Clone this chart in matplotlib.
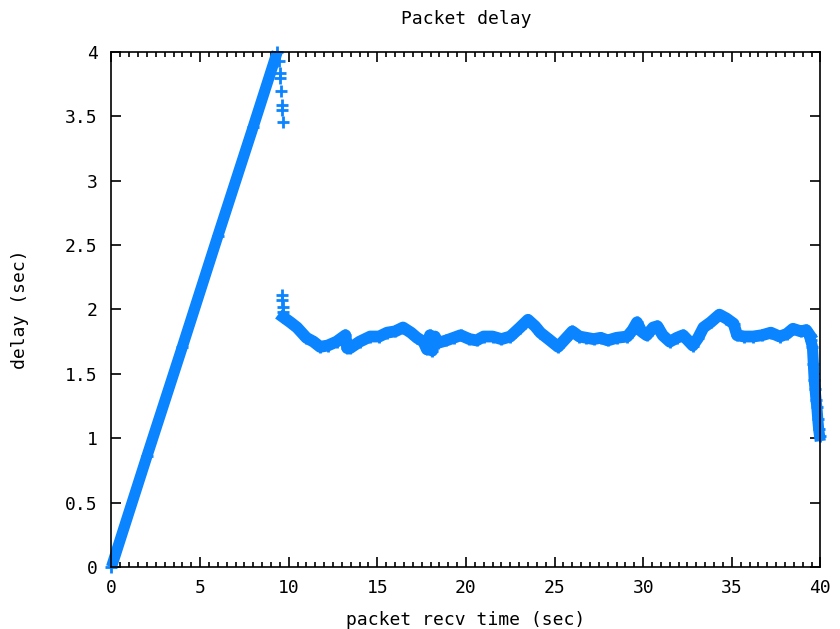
import matplotlib.pyplot as plt
from matplotlib.ticker import MultipleLocator

# --- dados ---
# rampa inicial (atraso cresce linearmente até ~4 s)
rampa_t = [0.0, 2.0, 4.0, 6.0, 8.0, 9.35]
rampa_atraso = [0.0, 0.86, 1.71, 2.57, 3.42, 4.0]

# pacotes isolados logo após o pico
queda_t = [9.45, 9.5, 9.52, 9.55, 9.6, 9.62, 9.65]
queda_atraso = [3.93, 3.84, 3.80, 3.70, 3.59, 3.55, 3.46]

# salto para ~2 s
salto_t = [9.6, 9.62, 9.65, 9.68]
salto_atraso = [2.11, 2.07, 2.02, 1.98]

# patamar com ruído (~1.8 s)
patamar_t = [9.7, 10.1, 10.47, 11.0, 11.4, 11.77, 12.2, 12.7, 13.2, 13.3,
             13.46, 14.0, 14.6, 15.1, 15.55, 16.0, 16.45, 16.9, 17.24, 17.6,
             17.8, 17.97, 18.1, 18.25, 18.4, 18.9, 19.3, 19.7, 20.2, 20.6,
             21.0, 21.5, 22.0, 22.5, 23.05, 23.5, 23.9, 24.2, 24.75, 25.2,
             25.6, 26.0, 26.4, 26.8, 27.2, 27.6, 28.0, 28.5, 29.1, 29.4,
             29.65, 29.9, 30.2, 30.56, 30.8, 31.1, 31.5, 31.9, 32.25, 32.8,
             33.1, 33.4, 33.8, 34.3, 34.7, 35.1, 35.3, 35.7, 36.2, 36.7,
             37.2, 37.7, 38.1, 38.45, 38.9, 39.2, 39.4]
patamar_atraso = [1.94, 1.90, 1.86, 1.78, 1.75, 1.71, 1.72, 1.75, 1.80, 1.70,
                  1.70, 1.75, 1.79, 1.79, 1.82, 1.83, 1.86, 1.82, 1.78, 1.75,
                  1.69, 1.80, 1.68, 1.79, 1.74, 1.76, 1.78, 1.80, 1.77, 1.76,
                  1.79, 1.79, 1.77, 1.79, 1.86, 1.92, 1.87, 1.82, 1.76, 1.71,
                  1.77, 1.83, 1.79, 1.78, 1.77, 1.78, 1.76, 1.78, 1.79, 1.84,
                  1.90, 1.83, 1.80, 1.86, 1.87, 1.80, 1.75, 1.78, 1.80, 1.72,
                  1.78, 1.86, 1.90, 1.96, 1.93, 1.89, 1.80, 1.79, 1.79, 1.80,
                  1.82, 1.79, 1.81, 1.85, 1.83, 1.84, 1.80]

# queda final
final_t = [39.45, 39.55, 39.6, 39.65, 39.7, 39.75, 39.8, 39.85, 39.9, 39.95]
final_atraso = [1.76, 1.71, 1.58, 1.45, 1.38, 1.30, 1.24, 1.15, 1.07, 1.02]

COR = '#0a84ff'
FONTE = 'DejaVu Sans Mono'
TAM = 13

fig = plt.figure(figsize=(8.4, 6.29), dpi=100)
ax = fig.add_axes([0.1327, 0.0986, 0.8440, 0.8187])

kw = dict(color=COR, marker='+', markersize=9, markeredgewidth=2, clip_on=False)
ax.plot(rampa_t, rampa_atraso, linewidth=8, solid_capstyle='butt', **kw)
ax.plot(queda_t, queda_atraso, linestyle='none', **kw)
ax.plot(salto_t, salto_atraso, linestyle='none', **kw)
ax.plot(patamar_t, patamar_atraso, linewidth=8.5, solid_joinstyle='round', **kw)
ax.plot(final_t, final_atraso, linewidth=8, **kw)

ax.set_xlim(0, 40)
ax.set_ylim(0, 4)
ax.xaxis.set_major_locator(MultipleLocator(5))
ax.xaxis.set_minor_locator(MultipleLocator(0.5))
ax.yaxis.set_major_locator(MultipleLocator(0.5))
ax.tick_params(axis='both', which='both', direction='in', top=True, right=True,
               labelsize=TAM, width=1.2)
ax.tick_params(axis='both', which='major', length=7)
ax.tick_params(axis='x', which='minor', length=3.5)
ax.tick_params(axis='x', which='major', pad=9)
ax.tick_params(axis='y', which='major', pad=10)
ax.set_xticklabels([f'{v:g}' for v in ax.get_xticks()])
ax.set_yticklabels([f'{v:g}' for v in ax.get_yticks()])
for lbl in ax.get_xticklabels() + ax.get_yticklabels():
    lbl.set_family(FONTE)
for s in ax.spines.values():
    s.set_linewidth(1.2)

ax.set_title('Packet delay', family=FONTE, fontsize=TAM, pad=20)
ax.set_xlabel('packet recv time (sec)', family=FONTE, fontsize=TAM, labelpad=10)
ax.set_ylabel('delay (sec)', family=FONTE, fontsize=TAM, labelpad=26)

fig.savefig('out.png', dpi=100)
